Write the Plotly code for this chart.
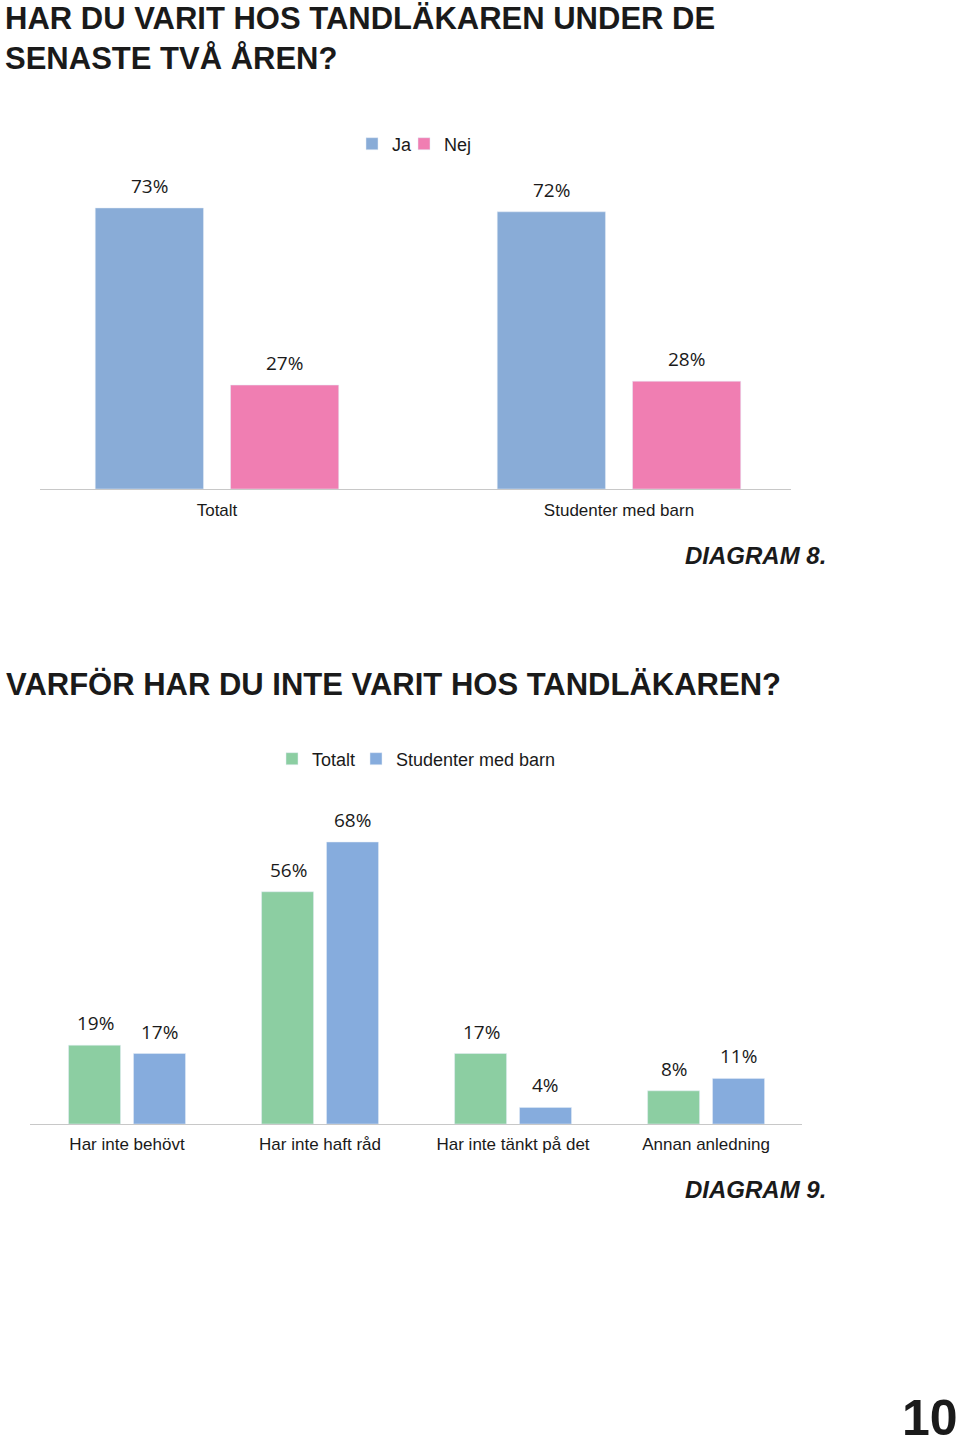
import plotly.graph_objects as go

W, H = 960, 1447

# ---------- data ----------
cats1 = ["Totalt", "Studenter med barn"]
ja = [73, 72]
nej = [27, 28]

cats2 = ["Har inte behövt", "Har inte haft råd", "Har inte tänkt på det", "Annan anledning"]
totalt = [19, 56, 17, 8]
studenter = [17, 68, 4, 11]

title1 = "HAR DU VARIT HOS TANDLÄKAREN UNDER DE<br>SENASTE TVÅ ÅREN?"
title2 = "VARFÖR HAR DU INTE VARIT HOS TANDLÄKAREN?"

BLUE1, PINK = "#89ACD7", "#F07EB2"
GREEN, BLUE2 = "#8CCEA2", "#86ACDD"

TICKFONT = dict(family="Liberation Sans, Arial", size=17, color="#1a1a1a")
VALFONT = dict(family="Open Sans, Noto Sans, sans-serif", size=19, color="#1a1a1a")
TITLEFONT = dict(family="Liberation Sans, Arial", size=31, color="#1a1a1a")
LEGFONT = dict(family="Liberation Sans, Arial", size=18, color="#1a1a1a")


def px(x):
    return x / W


def py(y):
    return 1 - y / H


fig = go.Figure()

# chart 1
fig.add_bar(x=cats1, y=ja, name="Ja", marker_color=BLUE1, xaxis="x", yaxis="y", legend="legend")
fig.add_bar(x=cats1, y=nej, name="Nej", marker_color=PINK, xaxis="x", yaxis="y", legend="legend2")
# chart 2
fig.add_bar(x=cats2, y=totalt, name="Totalt", marker_color=GREEN, xaxis="x2", yaxis="y2", legend="legend3")
fig.add_bar(x=cats2, y=studenter, name="Studenter med barn", marker_color=BLUE2, xaxis="x2", yaxis="y2", legend="legend4")

annotations = []
# value labels chart 1 (slot = 135 px -> offset +-67.5)
for i, c in enumerate(cats1):
    for v, sh in ((ja[i], -67.5), (nej[i], 67.5)):
        annotations.append(dict(x=c, y=v, xref="x", yref="y", text=f"{v}%", showarrow=False,
                                xshift=sh, yshift=7, yanchor="bottom", font=VALFONT))
# value labels chart 2 (slot = 64 px -> offset +-32)
for i, c in enumerate(cats2):
    for v, sh in ((totalt[i], -32), (studenter[i], 32)):
        annotations.append(dict(x=c, y=v, xref="x2", yref="y2", text=f"{v}%", showarrow=False,
                                xshift=sh, yshift=7, yanchor="bottom", font=VALFONT))

annotations += [
    dict(x=px(4), y=py(0), xref="paper", yref="paper", xanchor="left", yanchor="top",
         text=f"<b>{title1}</b>", showarrow=False, align="left", borderpad=0, font=TITLEFONT),
    dict(x=px(4), y=py(665), xref="paper", yref="paper", xanchor="left", yanchor="top",
         text=f"<b>{title2}</b>", showarrow=False, align="left", font=TITLEFONT),
    dict(x=px(828), y=py(555), xref="paper", yref="paper", xanchor="right", yanchor="middle",
         text="<b><i>DIAGRAM 8.</i></b>", showarrow=False,
         font=dict(family="Liberation Sans, Arial", size=24, color="#1a1a1a")),
    dict(x=px(828), y=py(1189), xref="paper", yref="paper", xanchor="right", yanchor="middle",
         text="<b><i>DIAGRAM 9.</i></b>", showarrow=False,
         font=dict(family="Liberation Sans, Arial", size=24, color="#1a1a1a")),
    dict(x=px(959), y=py(1418), xref="paper", yref="paper", xanchor="right", yanchor="middle",
         text="<b>10</b>", showarrow=False, borderpad=0,
         font=dict(family="Liberation Sans, Arial", size=50, color="#1a1a1a")),
]

axis_common = dict(showgrid=False, zeroline=False, ticks="", tickfont=TICKFONT, fixedrange=True)


def leg(xpx, ypx):
    return dict(orientation="h", x=px(xpx), y=py(ypx), xanchor="left", yanchor="middle",
                font=LEGFONT, itemwidth=30, bgcolor="rgba(0,0,0,0)")


fig.update_layout(
    width=W, height=H,
    margin=dict(l=0, r=0, t=0, b=0),
    paper_bgcolor="white", plot_bgcolor="white",
    barmode="group",
    bargap=0.327, bargroupgap=0.2,
    showlegend=True,
    xaxis=dict(domain=[px(40), px(791)], range=[-0.4403, 1.4279], anchor="y",
               showline=True, linecolor="#c8c8c8", linewidth=1, ticklabelstandoff=6, **axis_common),
    yaxis=dict(domain=[py(489), py(170)], range=[0, 319 / 3.85], anchor="x",
               showticklabels=False, showline=False, **axis_common),
    xaxis2=dict(domain=[px(30), px(802)], range=[-0.5026, 3.497], anchor="y2",
                showline=True, linecolor="#c8c8c8", linewidth=1, ticklabelstandoff=5, **axis_common),
    yaxis2=dict(domain=[py(1124), py(800)], range=[0, 324 / 4.147], anchor="x2",
                showticklabels=False, showline=False, **axis_common),
    legend=leg(352, 144),
    legend2=leg(404, 144),
    legend3=leg(272, 759),
    legend4=leg(356, 759),
    annotations=annotations,
)

fig.write_html("out.html")
